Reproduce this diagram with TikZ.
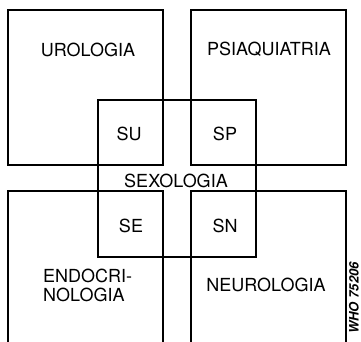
\documentclass[tikz,border=0pt]{standalone}
\usepackage{fontspec}
\setmainfont{TeX Gyre Heros}
\begin{document}
\begin{tikzpicture}[x=1pt,y=-1pt]
\tikzstyle{area}=[draw,line width=1.2pt,minimum width=155pt,minimum height=155pt,inner sep=0pt]
\tikzstyle{lbl}=[font=\fontsize{18}{19}\selectfont,inner sep=0pt]
\useasboundingbox (0,0) rectangle (361,341);
\clip (0,0) rectangle (361,341);
\node [area] (uro) at (85.5,87.5) {};
\node [area] (psi) at (268.5,87.5) {};
\node [area] (endo) at (85.5,268.5) {};
\node [area] (neuro) at (268.5,268.5) {};
\node [area,minimum width=158pt,minimum height=157pt] (sexo) at (177,178.5) {};

\node [lbl] (urot) at (88,49.5) {UROLOGIA};
\node [lbl] (psit) at (269,49.5) {PSIAQUIATRIA};
\node [lbl] (su) at (129,134) {SU};
\node [lbl] (sp) at (225,134) {SP};
\node [lbl] (sexot) at (176,181) {SEXOLOGIA};
\node [lbl] (se) at (131,226) {SE};
\node [lbl] (sn) at (225,226) {SN};
\node [lbl,align=left,anchor=west] (endot) at (43,285) {ENDOCRI-\\NOLOGIA};
\node [lbl] (neurot) at (266,284.5) {NEUROLOGIA};
\node [rotate=90,inner sep=0pt,font=\fontsize{13}{15}\selectfont\bfseries\itshape] (who) at (354,298) {WHO 75206};
\end{tikzpicture}
\end{document}
